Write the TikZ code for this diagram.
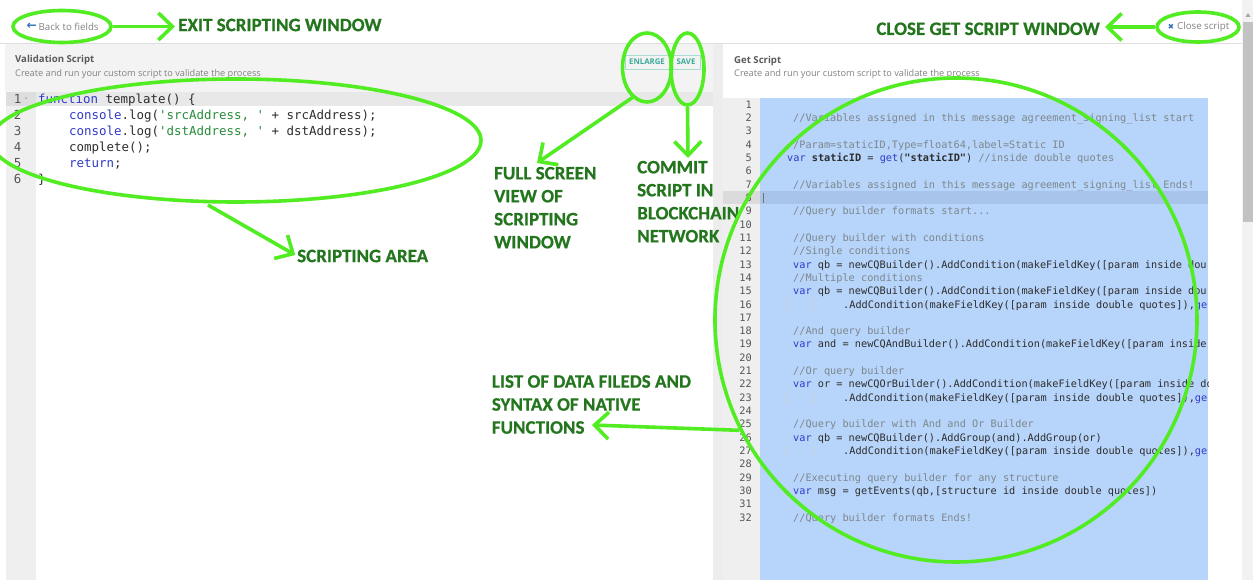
\documentclass[tikz,border=0pt]{standalone}
\usepackage{fontspec}
\setmainfont{Open Sans}
\setmonofont{DejaVu Sans Mono}
\newfontfamily\annfont{Carlito}[BoldFeatures={FakeBold=0.6}]
\newfontfamily\symfont{DejaVu Sans}
\usetikzlibrary{shapes.geometric,arrows.meta}
\definecolor{gr}{RGB}{82,236,34}
\definecolor{gtext}{RGB}{36,118,30}
\definecolor{codec}{RGB}{45,45,45}
\definecolor{kwc}{RGB}{48,58,200}
\definecolor{cmc}{RGB}{125,135,140}
\definecolor{strc}{RGB}{40,140,60}
\definecolor{numc}{RGB}{85,85,85}
\definecolor{uigray}{RGB}{130,130,130}
\definecolor{uidark}{RGB}{90,90,90}
\definecolor{iconblue}{RGB}{52,110,190}
\definecolor{tealc}{RGB}{60,168,152}
\definecolor{btnborder}{RGB}{170,220,212}
\definecolor{selblue}{RGB}{183,212,250}
\definecolor{actblue}{RGB}{168,196,234}
\definecolor{guttc}{RGB}{239,239,239}
\definecolor{headc}{RGB}{243,243,243}
\definecolor{sepc}{RGB}{222,222,222}
\newcommand\kw[1]{\textcolor{kwc}{#1}}
\newcommand\cmt[1]{\textcolor{cmc}{#1}}
\newcommand\strg[1]{\textcolor{strc}{#1}}
\newcommand\codeR[3]{\node[rcode] (r#1) at (#2,{108.2+(#1-1)*13.32}) {#3};}
\newcommand\codeL[3]{\node[lcode] (l#1) at (#2,{103.6+(#1-1)*16}) {#3};}
\begin{document}
\begin{tikzpicture}[x=1pt,y=-1pt,
  ann/.style={font=\annfont\bfseries\fontsize{19}{23}\selectfont, text=gtext, inner sep=0pt, align=left},
  gell/.style={draw=gr, line width=3.6pt, ellipse, inner sep=0pt},
  garrow/.style={draw=gr, line width=3.6pt, -{Straight Barb[length=14pt,width=27pt]}},
  rcode/.style={font=\ttfamily\fontsize{10.25}{12}\selectfont, text=codec, anchor=base west, inner sep=0pt},
  lcode/.style={font=\ttfamily\fontsize{12.45}{15}\selectfont, text=codec, anchor=base west, inner sep=0pt},
  rnum/.style={rcode, anchor=base east, text=numc},
  lnum/.style={lcode, anchor=base east, text=numc},
  ui/.style={inner sep=0pt, anchor=west},
  btn/.style={draw=btnborder, line width=0.6pt, text=tealc, font=\bfseries\fontsize{7.8}{9}\selectfont, inner sep=0pt, minimum height=14}
]
\useasboundingbox (0,0) rectangle (1253,580);
\fill[white] (0,0) rectangle (1253,580);
% ---- panels ----
\fill[headc] (5,43) rectangle (713,92);
\fill[white] (5,92) rectangle (713,580);
\fill[guttc] (6,92) rectangle (36,580);
\fill[black!9] (6,92) rectangle (713,106);
\fill[black!13] (6,92) rectangle (36,106);
\fill[black!7] (713,43) rectangle (723,580);
\fill[white] (723,43) rectangle (1241,580);
\fill[guttc] (723,98) rectangle (760,580);
\fill[black!14] (723,191.5) rectangle (760,204.5);
\fill[selblue] (760,98) rectangle (1208,580);
\fill[actblue] (760,191.5) rectangle (1208,204.5);
\draw[sepc, line width=0.8pt] (0,43) -- (1242,43);
% scrollbar
\fill[black!5] (1242,0) rectangle (1253,580);
\fill[black!24] (1243,22) rectangle (1253,222);
\fill[black!35] (1245.5,17) -- (1250.5,17) -- (1248,13) -- cycle;
% ---- top bar ----
\node[ui, text=iconblue, font=\symfont\bfseries\fontsize{12}{12}\selectfont, anchor=east] (backic) at (37,26.5) {←};
\node[ui, text=uigray, font=\fontsize{9.7}{11}\selectfont] (backt) at (38.5,27) {Back to fields};
\node[ui, text=iconblue, font=\symfont\fontsize{7.5}{8}\selectfont, anchor=center] (closeic) at (1171,27) {✖};
\node[ui, text=uigray, font=\fontsize{9.7}{11}\selectfont] (closet) at (1177,27) {Close script};
% ---- headers ----
\node[ui, text=uidark, font=\bfseries\fontsize{9.6}{11}\selectfont] (vtitle) at (15,60.5) {Validation Script};
\node[ui, text=uigray, font=\fontsize{9.2}{11}\selectfont] (vsub) at (15,74.3) {Create and run your custom script to validate the process};
\node[ui, text=uidark, font=\bfseries\fontsize{9.6}{11}\selectfont] (gtitle) at (734,61.5) {Get Script};
\node[ui, text=uigray, font=\fontsize{9.2}{11}\selectfont] (gsub) at (734,74.3) {Create and run your custom script to validate the process};
\node[btn, minimum width=44] (enl) at (647,62) {ENLARGE};
\node[btn, minimum width=28] (save) at (686,62) {SAVE};
% ---- left code ----
\foreach \n in {1,...,6} \node[lnum] (ln\n) at (21.5,{103.6+(\n-1)*16}) {\n};
\node[lcode, text=numc, font=\ttfamily\fontsize{7}{8}\selectfont] (fold) at (24,101) {-};
\codeL{1}{38}{\kw{function} template() \{}
\codeL{2}{69}{\kw{console}.log(\strg{'srcAddress, '} + srcAddress);}
\codeL{3}{69}{\kw{console}.log(\strg{'dstAddress, '} + dstAddress);}
\codeL{4}{69}{complete();}
\codeL{5}{69}{\kw{return};}
\codeL{6}{38}{\}}
% ---- right code ----
\foreach \n in {1,...,32} \node[rnum] (rn\n) at (752,{108.2+(\n-1)*13.32}) {\n};
\begin{scope}
\clip (760,98) rectangle (1208,580);
\draw[black!55, line width=0.6pt] (763,193) -- (763,203);
\foreach \n in {16,23,27} {
  \draw[black!18, line width=0.5pt] (787,{98.5+(\n-1)*13.32}) -- ++(0,13);
  \draw[black!18, line width=0.5pt] (812,{98.5+(\n-1)*13.32}) -- ++(0,13);
}
\codeR{2}{793}{\cmt{//Variables assigned in this message agreement\_signing\_list start}}
\codeR{4}{793}{\cmt{/Param=staticID,Type=float64,label=Static ID}}
\codeR{5}{787}{\kw{var} \textbf{staticID} = \kw{get}(\textbf{"staticID"}) \cmt{//inside double quotes}}
\codeR{7}{793}{\cmt{//Variables assigned in this message agreement\_signing\_list Ends!}}
\codeR{9}{793}{\cmt{//Query builder formats start...}}
\codeR{11}{793}{\cmt{//Query builder with conditions}}
\codeR{12}{793}{\cmt{//Single conditions}}
\codeR{13}{793}{\kw{var} qb = newCQBuilder().AddCondition(makeFieldKey([param inside dou}
\codeR{14}{793}{\cmt{//Multiple conditions}}
\codeR{15}{793}{\kw{var} qb = newCQBuilder().AddCondition(makeFieldKey([param inside dou}
\codeR{16}{843}{.AddCondition(makeFieldKey([param inside double quotes]),\kw{ge}}
\codeR{18}{793}{\cmt{//And query builder}}
\codeR{19}{793}{\kw{var} and = newCQAndBuilder().AddCondition(makeFieldKey([param inside}
\codeR{21}{793}{\cmt{//Or query builder}}
\codeR{22}{793}{\kw{var} or = newCQOrBuilder().AddCondition(makeFieldKey([param inside do}
\codeR{23}{843}{.AddCondition(makeFieldKey([param inside double quotes]),\kw{ge}}
\codeR{25}{793}{\cmt{//Query builder with And and Or Builder}}
\codeR{26}{793}{\kw{var} qb = newCQBuilder().AddGroup(and).AddGroup(or)}
\codeR{27}{843}{.AddCondition(makeFieldKey([param inside double quotes]),\kw{ge}}
\codeR{29}{793}{\cmt{//Executing query builder for any structure}}
\codeR{30}{793}{\kw{var} msg = getEvents(qb,[structure id inside double quotes])}
\codeR{32}{793}{\cmt{//Query builder formats Ends!}}
\end{scope}
% ---- annotation labels ----
\node[ann, anchor=west] (exitL) at (178,25) {EXIT SCRIPTING WINDOW};
\node[ann, anchor=east] (closeL) at (1100,28.8) {CLOSE GET SCRIPT WINDOW};
\node[ann, anchor=north west] (fullL) at (494,166.7) {FULL SCREEN\\VIEW OF\\SCRIPTING\\WINDOW};
\node[ann, anchor=north west] (commitL) at (637,160.7) {COMMIT\\SCRIPT IN\\BLOCKCHAIN\\NETWORK};
\node[ann, anchor=west] (areaL) at (297,256) {SCRIPTING AREA};
\node[ann, anchor=north west] (listL) at (491.7,375) {LIST OF DATA FILEDS AND\\SYNTAX OF NATIVE\\FUNCTIONS};
% ---- annotation ellipses ----
\node[gell, minimum width=98, minimum height=32] (backE) at (62,26.5) {};
\node[gell, minimum width=82, minimum height=30] (closeE) at (1198,27) {};
\node[gell, minimum width=49, minimum height=69] (enlE) at (647,67.5) {};
\node[gell, minimum width=33, minimum height=72] (saveE) at (687.5,69) {};
\node[gell, minimum width=490, minimum height=123] (scriptE) at (236,140.5) {};
\node[gell, minimum width=482, minimum height=484] (getE) at (956,320) {};
% ---- connectors ----
\coordinate (fullTip) at (537,163);
\coordinate (commitTip) at (688,158);
\coordinate (saS) at (208,205);
\coordinate (listTip) at (592,425);
\draw[garrow, shorten >=3pt] (backE.east) -- (backE.east -| exitL.west);
\draw[garrow, shorten >=5pt] (closeE.west) -- (closeE.west -| closeL.east);
\draw[garrow] (enlE.244) -- (fullTip);
\draw[garrow] (saveE.south) -- (commitTip);
\draw[garrow, shorten >=2pt] (saS) -- (areaL.west);
\draw[garrow] (getE.207) -- (listTip);
\end{tikzpicture}
\end{document}
